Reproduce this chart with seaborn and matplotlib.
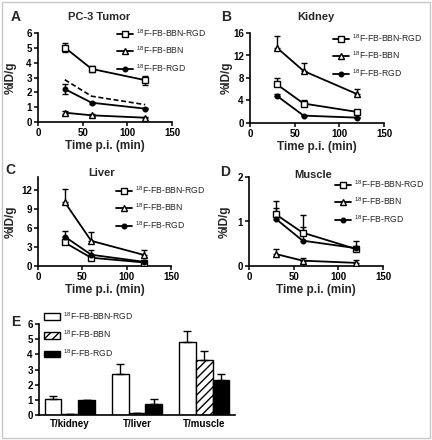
import numpy as np
import pandas as pd
import matplotlib
matplotlib.use("Agg")
import matplotlib.pyplot as plt
import seaborn as sns
from matplotlib.patches import Patch, Rectangle

# time points (min)
times = [30, 60, 120]

# A - PC-3 tumor (%ID/g)
tumor_bbn_rgd = [5.02, 3.58, 2.82]
tumor_bbn_rgd_err = [0.3, 0.22, 0.3]
tumor_bbn = [0.63, 0.45, 0.29]
tumor_bbn_err = [0.12, 0.06, 0.04]
tumor_rgd = [2.22, 1.3, 0.9]
tumor_rgd_err = [0.35, 0.06, 0.05]
tumor_sum = [2.85, 1.74, 1.17]   # dashed line

# B - kidney
kidney_bbn_rgd = [6.87, 3.46, 1.97]
kidney_bbn_rgd_err = [1.1, 0.6, 0.3]
kidney_bbn = [13.4, 9.25, 5.13]
kidney_bbn_err = [2.15, 1.4, 1.0]
kidney_rgd = [4.84, 1.31, 0.95]
kidney_rgd_err = [0.4, 0.15, 0.2]

# C - liver
liver_bbn_rgd = [3.7, 1.3, 0.55]
liver_bbn_rgd_err = [0.2, 0.2, 0.1]
liver_bbn = [10.07, 3.96, 1.72]
liver_bbn_err = [2.1, 1.45, 0.8]
liver_rgd = [4.64, 1.77, 0.65]
liver_rgd_err = [0.85, 0.75, 0.15]

# D - muscle
muscle_bbn_rgd = [1.16, 0.75, 0.38]
muscle_bbn_rgd_err = [0.3, 0.4, 0.18]
muscle_bbn = [0.27, 0.12, 0.07]
muscle_bbn_err = [0.11, 0.05, 0.06]
muscle_rgd = [1.06, 0.57, 0.4]
muscle_rgd_err = [0.25, 0.3, 0.05]

# E - ratios
ratio_cats = ['T/kidney', 'T/liver', 'T/muscle']
ratio_bbn_rgd = [1.05, 2.72, 4.81]
ratio_bbn_rgd_err = [0.21, 0.64, 0.73]
ratio_bbn = [0.05, 0.1, 3.65]
ratio_bbn_err = [0.0, 0.03, 0.6]
ratio_rgd = [1.0, 0.75, 2.31]
ratio_rgd_err = [0.0, 0.3, 0.42]

probe_names = [r'$^{18}$F-FB-BBN-RGD', r'$^{18}$F-FB-BBN', r'$^{18}$F-FB-RGD']

sns.set_style('ticks')
plt.rcParams['font.family'] = ['Liberation Sans', 'DejaVu Sans']
plt.rcParams['mathtext.default'] = 'regular'
plt.rcParams['hatch.linewidth'] = 1.0

W, H = 432, 440
fig = plt.figure(figsize=(W / 100, H / 100), dpi=100)

TICK_FS = 7
LABEL_FS = 8.5
LEG_FS = 6.2


def px_axes(left, right, bottom, top):
    return fig.add_axes([left / W, 1 - bottom / H, (right - left) / W, (bottom - top) / H])


def style_axes(ax):
    for s in ['top', 'right']:
        ax.spines[s].set_visible(False)
    for s in ['left', 'bottom']:
        ax.spines[s].set_linewidth(1.2)
        ax.spines[s].set_color('black')
    ax.tick_params(direction='out', length=3, width=1.1, colors='black', labelsize=TICK_FS, pad=1.5)
    for lab in ax.get_xticklabels() + ax.get_yticklabels():
        lab.set_fontweight('bold')


def line_panel(ax, series, errs, ymax, yticks, sym_err=False):
    markers = ['s', '^', 'o']
    faces = ['white', 'white', 'black']
    sizes = [4.5, 4.5, 3.3]
    for vals, err, name, m, fc, ms in zip(series, errs, probe_names, markers, faces, sizes):
        if sym_err:
            yerr = err
        else:
            yerr = [np.zeros(len(err)), err]
        ax.errorbar(times, vals, yerr=yerr, fmt='none', ecolor='black',
                    elinewidth=1, capsize=2.3, capthick=1, zorder=2)
        sns.lineplot(x=times, y=vals, ax=ax, color='black', lw=1.3, marker=m,
                     markerfacecolor=fc, markeredgecolor='black', markersize=ms,
                     markeredgewidth=1, label=name, zorder=3)
    ax.set_xlim(0, 150)
    ax.set_ylim(0, ymax)
    ax.set_xticks([0, 50, 100, 150])
    ax.set_yticks(yticks)
    ax.set_xlabel('Time p.i. (min)', fontsize=LABEL_FS, fontweight='bold')
    ax.set_ylabel('%ID/g', fontsize=LABEL_FS, fontweight='bold')
    ax.xaxis.set_label_coords(0.5, -0.2)
    style_axes(ax)


def panel_legend(ax, x, y):
    h, l = ax.get_legend_handles_labels()
    ax.legend(h[:3], l[:3], loc='upper left', bbox_to_anchor=(x / W, 1 - y / H),
              bbox_transform=fig.transFigure, frameon=False, fontsize=LEG_FS,
              handlelength=1.8, handletextpad=0.4, labelspacing=0.7, borderpad=0,
              borderaxespad=0)


# A
axA = px_axes(38, 172, 122, 33)
line_panel(axA, [tumor_bbn_rgd, tumor_bbn, tumor_rgd],
           [tumor_bbn_rgd_err, tumor_bbn_err, tumor_rgd_err], 6, range(0, 7), sym_err=True)
sns.lineplot(x=times, y=tumor_sum, ax=axA, color='black', lw=1.2, linestyle=(0, (3, 1.6)), zorder=2)
axA.yaxis.set_label_coords(-0.16, 0.5)
panel_legend(axA, 117, 27)

# B
axB = px_axes(250, 384, 123, 33)
line_panel(axB, [kidney_bbn_rgd, kidney_bbn, kidney_rgd],
           [kidney_bbn_rgd_err, kidney_bbn_err, kidney_rgd_err], 16, [0, 4, 8, 12, 16])
axB.yaxis.set_label_coords(-0.13, 0.5)
panel_legend(axB, 333, 32)

# C
axC = px_axes(38, 171, 266, 177)
line_panel(axC, [liver_bbn_rgd, liver_bbn, liver_rgd],
           [liver_bbn_rgd_err, liver_bbn_err, liver_rgd_err], 14, [0, 3, 6, 9, 12])
axC.yaxis.set_label_coords(-0.16, 0.5)
panel_legend(axC, 116, 184)

# D
axD = px_axes(249, 383, 266, 177)
line_panel(axD, [muscle_bbn_rgd, muscle_bbn, muscle_rgd],
           [muscle_bbn_rgd_err, muscle_bbn_err, muscle_rgd_err], 2, [0, 1, 2])
axD.yaxis.set_label_coords(-0.135, 0.5)
panel_legend(axD, 335, 178)

# E
axE = px_axes(39, 235, 415, 324)
df_e = pd.DataFrame({
    'ratio': ratio_cats * 3,
    'value': ratio_bbn_rgd + ratio_bbn + ratio_rgd,
    'probe': sum([[n] * 3 for n in probe_names], []),
})
sns.barplot(data=df_e, x='ratio', y='value', hue='probe', ax=axE, width=0.75,
            palette=['white', 'white', 'black'], edgecolor='black', linewidth=1,
            errorbar=None, legend=False, saturation=1)
hatches = ['', '////', '']
errs_e = [ratio_bbn_rgd_err, ratio_bbn_err, ratio_rgd_err]
for cont, hatch, err in zip(axE.containers, hatches, errs_e):
    xs, ys = [], []
    for bar in cont:
        bar.set_hatch(hatch)
        xs.append(bar.get_x() + bar.get_width() / 2)
        ys.append(bar.get_height())
    axE.errorbar(xs, ys, yerr=[np.zeros(3), err], fmt='none', ecolor='black',
                 elinewidth=1, capsize=3, capthick=1, zorder=1)
axE.set_ylim(0, 6)
axE.set_xlim(-0.46, 2.46)
axE.set_yticks(range(0, 7))
axE.set_xlabel('')
axE.set_ylabel('')
style_axes(axE)
axE.tick_params(axis='x', length=0, pad=3)
leg_handles = [Patch(facecolor='white', edgecolor='black', lw=1),
               Patch(facecolor='white', edgecolor='black', lw=1, hatch='////'),
               Patch(facecolor='black', edgecolor='black', lw=1)]
axE.legend(leg_handles, probe_names, loc='upper left', bbox_to_anchor=(44 / W, 1 - 310 / H),
           bbox_transform=fig.transFigure, frameon=False, fontsize=LEG_FS,
           handlelength=1.9, handleheight=0.8, handletextpad=0.3, labelspacing=0.8,
           borderpad=0, borderaxespad=0)

# titles and panel letters
for x, y, t in [(99, 17.5, 'PC-3 Tumor'), (316, 17.5, 'Kidney'), (102, 173, 'Liver'), (313, 175, 'Muscle')]:
    fig.text(x / W, 1 - y / H, t, ha='center', va='center', fontsize=8, fontweight='bold')
for x, y, t in [(16, 17, 'A'), (226, 17, 'B'), (10, 170, 'C'), (225, 172, 'D'), (16, 322, 'E')]:
    fig.text(x / W, 1 - y / H, t, ha='center', va='center', fontsize=10, fontweight='bold')

# outer frame
fig.add_artist(Rectangle((1.5 / W, 2.5 / H), 428.5 / W, 435.5 / H, transform=fig.transFigure,
                         fill=False, edgecolor='#c8c8c8', lw=1))

fig.savefig('out.png', dpi=100)
